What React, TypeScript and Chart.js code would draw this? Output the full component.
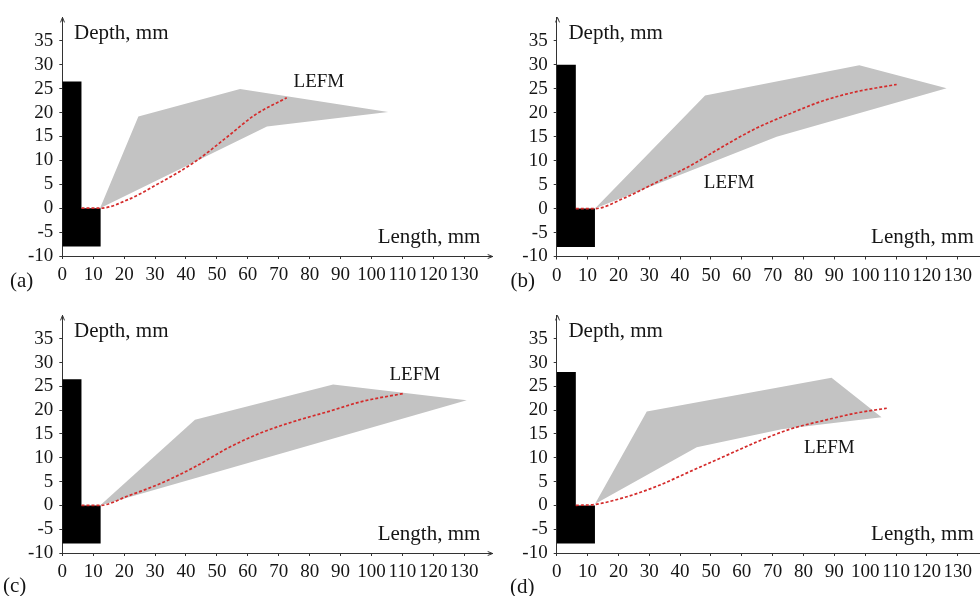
import React, { useEffect, useRef } from 'react';
import { Chart, registerables } from 'chart.js';

Chart.register(...registerables);

type Pt = [number, number];

// ---- axis values ----
const xMin = 0;
const xMax = 139.2;
const xStep = 10;
const yMin = -10;
const yMax = 39.9;
const yStep = 5;

// ---- specimen (black L-shaped block) ----
const wallBottom = -8;
const wallInnerX = 6.2;
const wallOuterX = 12.4;
const wallTopA = 26.5;
const wallTopB = 30;
const wallTopC = 26.5;
const wallTopD = 28;

// ---- grey scatter band (experimental crack paths) ----
const bandA: Pt[] = [[12.2, 0], [24.6, 19.2], [57.5, 24.9], [105.4, 20.1], [66.2, 17.1], [12.2, 0]];
const bandB: Pt[] = [[12.4, 0], [48.1, 23.6], [98.1, 29.9], [126.4, 25.1], [71.3, 15.0], [12.4, 0]];
const bandC: Pt[] = [[12.2, 0], [42.9, 18.0], [87.6, 25.4], [130.8, 22.1], [12.2, 0]];
const bandD: Pt[] = [[12.4, 0.3], [29.2, 19.7], [89.1, 26.8], [105.3, 18.5], [72.9, 16.0], [45.4, 12.2], [12.4, 0.3]];

// ---- LEFM predicted crack path (red dashed) ----
const lefmA: Pt[] = [[6.2, 0], [12.4, 0], [21.3, 1.8], [32.1, 5.5], [42.9, 9.7], [53.7, 15.1], [62.3, 19.5], [72.6, 23.1]];
const lefmB: Pt[] = [[6.2, 0], [12.4, 0], [21.6, 2.1], [32.4, 5.5], [43.2, 8.9], [54.0, 13.0], [64.8, 16.8], [75.6, 19.8], [86.4, 22.5], [97.2, 24.4], [110.2, 25.9]];
const lefmC: Pt[] = [[6.2, 0], [12.2, 0], [21.3, 2.0], [32.1, 4.7], [42.9, 8.1], [53.7, 12.1], [64.5, 15.3], [75.3, 17.7], [86.0, 19.7], [96.8, 21.8], [110.3, 23.5]];
const lefmD: Pt[] = [[6.2, 0], [12.4, 0.2], [21.6, 1.6], [32.4, 4.0], [43.2, 7.1], [54.0, 10.2], [64.8, 13.3], [75.6, 16.0], [86.4, 17.8], [97.2, 19.4], [107, 20.4]];

// ---- label anchors (data coordinates) ----
const lefmLabelA: Pt = [83.0, 26.4];
const lefmLabelB: Pt = [55.9, 5.3];
const lefmLabelC: Pt = [114.0, 27.3];
const lefmLabelD: Pt = [88.4, 12.0];
const depthTitleAt: Pt = [3.8, 35.3];
const lengthTitleAt: Pt = [135.2, -7.2];

const yTitle = 'Depth, mm';
const xTitle = 'Length, mm';
const lefmText = 'LEFM';

const SERIF = '"Liberation Serif", "Times New Roman", Times, serif';
const AXIS = '#333333';
const TEXT = '#151515';

interface PanelCfg {
  tag: string;
  band: Pt[];
  lefm: Pt[];
  wallTop: number;
  lefmLabel: Pt;
  left: number;
  top: number;
  width: number;
  height: number;
  areaLeft: number;
  areaRight: number;
  areaTop: number;
  areaBottom: number;
  tagX: number;
  tagY: number;
}

const panels: PanelCfg[] = [
  { tag: '(a)', band: bandA, lefm: lefmA, wallTop: wallTopA, lefmLabel: lefmLabelA,
    left: 0, top: 0, width: 500, height: 298, areaLeft: 62.3, areaRight: 492.7, areaTop: 11.7, areaBottom: 256, tagX: 10, tagY: 287 },
  { tag: '(b)', band: bandB, lefm: lefmB, wallTop: wallTopB, lefmLabel: lefmLabelB,
    left: 490, top: 0, width: 500, height: 298, areaLeft: 66.7, areaRight: 496.1, areaTop: 11.7, areaBottom: 256.5, tagX: 20.5, tagY: 287 },
  { tag: '(c)', band: bandC, lefm: lefmC, wallTop: wallTopC, lefmLabel: lefmLabelC,
    left: 0, top: 298, width: 500, height: 298, areaLeft: 62.3, areaRight: 492.7, areaTop: 10.3, areaBottom: 255, tagX: 3, tagY: 294 },
  { tag: '(d)', band: bandD, lefm: lefmD, wallTop: wallTopD, lefmLabel: lefmLabelD,
    left: 490, top: 298, width: 500, height: 298, areaLeft: 66.7, areaRight: 496.1, areaTop: 10.3, areaBottom: 255, tagX: 20, tagY: 295 },
];

const toXY = (pts: Pt[]) => pts.map(([x, y]) => ({ x, y }));

function Panel({ cfg }: { cfg: PanelCfg }) {
  const ref = useRef<HTMLCanvasElement>(null);

  useEffect(() => {
    if (!ref.current) return;
    const wall: Pt[] = [
      [0, wallBottom], [0, cfg.wallTop], [wallInnerX, cfg.wallTop], [wallInnerX, 0],
      [wallOuterX, 0], [wallOuterX, wallBottom], [0, wallBottom],
    ];

    const annot = {
      id: 'annot',
      afterDraw(chart: any) {
        const { ctx, chartArea } = chart;
        const xs = chart.scales.x;
        const ys = chart.scales.y;
        ctx.save();
        ctx.fillStyle = TEXT;
        ctx.textBaseline = 'alphabetic';
        ctx.font = `21px ${SERIF}`;
        ctx.textAlign = 'left';
        ctx.fillText(yTitle, xs.getPixelForValue(depthTitleAt[0]), ys.getPixelForValue(depthTitleAt[1]));
        ctx.textAlign = 'right';
        ctx.fillText(xTitle, xs.getPixelForValue(lengthTitleAt[0]), ys.getPixelForValue(lengthTitleAt[1]));
        ctx.textAlign = 'left';
        ctx.fillText(cfg.tag, cfg.tagX, cfg.tagY);
        ctx.font = `19px ${SERIF}`;
        ctx.textAlign = 'center';
        ctx.textBaseline = 'middle';
        ctx.fillText(lefmText, xs.getPixelForValue(cfg.lefmLabel[0]), ys.getPixelForValue(cfg.lefmLabel[1]));
        // small arrow heads on axes
        ctx.strokeStyle = AXIS;
        ctx.lineWidth = 1;
        const l = Math.round(chartArea.left) + 0.5;
        const t = chartArea.top;
        ctx.beginPath();
        ctx.moveTo(l - 2, t + 5);
        ctx.lineTo(l, t);
        ctx.lineTo(l + 2, t + 5);
        ctx.stroke();
        const r = chartArea.right;
        const b = Math.round(chartArea.bottom) + 0.5;
        ctx.beginPath();
        ctx.moveTo(r - 5, b - 2);
        ctx.lineTo(r, b);
        ctx.lineTo(r - 5, b + 2);
        ctx.stroke();
        ctx.restore();
      },
    };

    const chart = new Chart(ref.current, {
      type: 'scatter',
      data: {
        datasets: [
          {
            data: toXY(cfg.lefm),
            showLine: true,
            borderColor: '#d42b2b',
            borderWidth: 1.7,
            borderDash: [3, 2],
            pointRadius: 0,
            cubicInterpolationMode: 'monotone',
            fill: false,
            order: 0,
          } as any,
          {
            data: toXY(wall),
            showLine: true,
            borderColor: 'rgba(0,0,0,0)',
            borderWidth: 0,
            backgroundColor: '#000000',
            pointRadius: 0,
            tension: 0,
            fill: 'shape',
            order: 1,
          } as any,
          {
            data: toXY(cfg.band),
            showLine: true,
            borderColor: 'rgba(0,0,0,0)',
            borderWidth: 0,
            backgroundColor: '#c3c3c3',
            pointRadius: 0,
            tension: 0,
            fill: 'shape',
            order: 2,
          } as any,
        ],
      },
      options: {
        animation: false,
        responsive: false,
        maintainAspectRatio: false,
        events: [],
        layout: {
          padding: { left: 0, top: cfg.areaTop, right: cfg.width - cfg.areaRight, bottom: 0 },
        },
        plugins: {
          legend: { display: false },
          tooltip: { enabled: false },
          title: { display: false },
        },
        scales: {
          x: {
            type: 'linear',
            min: xMin,
            max: xMax,
            afterFit: (s: any) => { s.height = cfg.height - cfg.areaBottom; },
            ticks: {
              stepSize: xStep,
              includeBounds: false,
              autoSkip: false,
              maxRotation: 0,
              minRotation: 0,
              padding: 5,
              color: TEXT,
              font: { family: SERIF, size: 19 },
            },
            grid: { drawOnChartArea: false, tickLength: 3, color: AXIS },
            border: { color: AXIS, width: 1 },
          },
          y: {
            type: 'linear',
            min: yMin,
            max: yMax,
            afterFit: (s: any) => { s.width = cfg.areaLeft; },
            ticks: {
              stepSize: yStep,
              includeBounds: false,
              autoSkip: false,
              padding: 6,
              color: TEXT,
              font: { family: SERIF, size: 19 },
            },
            grid: { drawOnChartArea: false, tickLength: 3, color: AXIS },
            border: { color: AXIS, width: 1 },
          },
        },
      } as any,
      plugins: [annot],
    });
    return () => chart.destroy();
  }, [cfg]);

  return (
    <canvas
      ref={ref}
      width={cfg.width}
      height={cfg.height}
      style={{ position: 'absolute', left: cfg.left, top: cfg.top, width: cfg.width, height: cfg.height }}
    />
  );
}

export default function App() {
  return (
    <div
      style={{
        position: 'fixed',
        left: 0,
        top: 0,
        width: 980,
        height: 596,
        overflow: 'hidden',
        background: '#ffffff',
      }}
    >
      {panels.map((p) => (
        <Panel key={p.tag} cfg={p} />
      ))}
    </div>
  );
}
